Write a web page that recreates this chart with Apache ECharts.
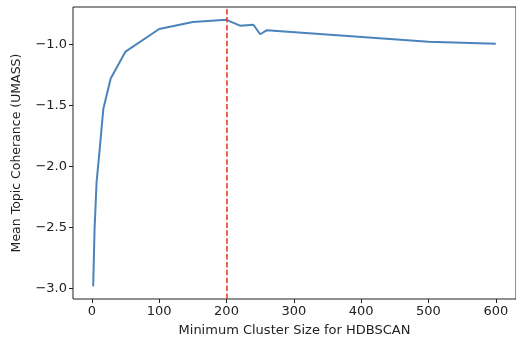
<!DOCTYPE html>
<html>
<head>
    <meta charset="utf-8">
    <title>HDBSCAN coherence</title>
    <script src="https://cdn.jsdelivr.net/npm/echarts@6/dist/echarts.min.js"></script>
</head>
<body style="margin:0;background:#fff">
<div id="main" style="width:516px;height:345px;"></div>

<script type="text/javascript">
    // minimum cluster sizes tried and the mean UMASS coherence for each
    var clusterSizes = [2, 4, 7, 12, 17, 28, 50, 100, 150, 200, 220, 240, 250, 260, 500, 600];
    var coherence = [-2.98, -2.52, -2.13, -1.84, -1.53, -1.28, -1.06, -0.875, -0.818, -0.800,
                     -0.848, -0.840, -0.918, -0.885, -0.980, -0.995];
    var chosenSize = 200;
    var xTicks = [0, 100, 200, 300, 400, 500, 600];
    var yTicks = [-3.0, -2.5, -2.0, -1.5, -1.0];

    var points = [];
    for (var i = 0; i < clusterSizes.length; i++) {
        points.push([clusterSizes[i], coherence[i]]);
    }

    var font = 'DejaVu Sans';
    var myChart = echarts.init(document.getElementById('main'));

    var option = {
        animation: false,
        backgroundColor: '#fff',
        grid: {
            left: 73, right: -3, top: 7, bottom: 46,
            show: true, borderColor: '#222', borderWidth: 1
        },
        xAxis: {
            type: 'value',
            min: -28, max: 630,
            name: 'Minimum Cluster Size for HDBSCAN',
            nameLocation: 'middle',
            nameGap: 25,
            nameTextStyle: { fontFamily: font, fontSize: 13, color: '#222' },
            splitLine: { show: false },
            axisLine: { show: false, onZero: false },
            axisTick: { show: true, length: 4, inside: false, customValues: xTicks, lineStyle: { color: '#222' } },
            axisLabel: { customValues: xTicks, fontFamily: font, fontSize: 13, color: '#222', margin: 6 }
        },
        yAxis: {
            type: 'value',
            min: -3.085, max: -0.695,
            name: 'Mean Topic Coherance (UMASS)',
            nameLocation: 'middle',
            nameGap: 50,
            nameTextStyle: { fontFamily: font, fontSize: 12.5, color: '#222' },
            splitLine: { show: false },
            axisLine: { show: false, onZero: false },
            axisTick: { show: true, length: 4, customValues: yTicks, lineStyle: { color: '#222' } },
            axisLabel: {
                customValues: yTicks, fontFamily: font, fontSize: 13, color: '#222', margin: 6,
                formatter: function (v) {
                    return (v < 0 ? '\u2212' : '') + Math.abs(v).toFixed(1);
                }
            }
        },
        series: [
            {
                type: 'line',
                data: points,
                showSymbol: false,
                lineStyle: { color: '#4a84bb', width: 2 },
                markLine: {
                    silent: true,
                    symbol: 'none',
                    label: { show: false },
                    lineStyle: { color: '#ee3a2c', width: 1.6, type: [5.5, 2.4] },
                    data: [{ xAxis: chosenSize }]
                }
            }
        ]
    };

    myChart.setOption(option);
</script>
</body>
</html>
